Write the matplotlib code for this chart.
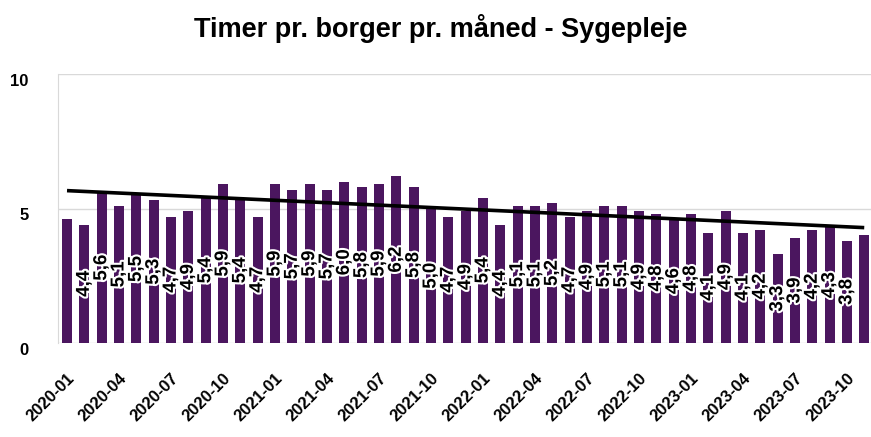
import matplotlib
matplotlib.use("Agg")
import matplotlib.pyplot as plt
import matplotlib.patheffects as pe
import numpy as np

plt.rcParams['font.family'] = ['Liberation Sans', 'DejaVu Sans']

months = [f"{y}-{m:02d}" for y in (2020, 2021, 2022, 2023) for m in range(1, 13)][:47]
values = [4.6, 4.4, 5.6, 5.1, 5.5, 5.3, 4.7, 4.9, 5.4, 5.9, 5.4, 4.7,
          5.9, 5.7, 5.9, 5.7, 6.0, 5.8, 5.9, 6.2, 5.8, 5.0, 4.7, 4.9,
          5.4, 4.4, 5.1, 5.1, 5.2, 4.7, 4.9, 5.1, 5.1, 4.9, 4.8, 4.6,
          4.8, 4.1, 4.9, 4.1, 4.2, 3.3, 3.9, 4.2, 4.3, 3.8, 4.0]
labelled = list(range(1, 46))
yticks = [0, 5, 10]

bar_color = '#4B165F'

fig = plt.figure(figsize=(8.71, 4.37), dpi=100)
ax = fig.add_axes([58/871, (437-343)/437, 1 - 58/871, (343-74)/437])

x = np.arange(len(values))
ax.bar(x, values, width=0.58, color=bar_color, zorder=2)

# trend line
coef = np.polyfit(x, values, 1)
ax.plot(x, np.polyval(coef, x), color='black', lw=2.6, zorder=4, solid_capstyle='butt')

for i in labelled:
    v = values[i]
    ax.text(i, v / 2, f"{v:.1f}".replace('.', ','), rotation=90, ha='center', va='center',
            fontsize=13.5, fontweight='bold', color='black', zorder=5,
            path_effects=[pe.withStroke(linewidth=3, foreground='white')])

ax.set_ylim(0, 10)
ax.set_xlim(-0.52, 46.39)
ax.set_yticks(yticks)
ax.set_yticklabels([str(t) for t in yticks], fontsize=12, fontweight='bold', va='top')
ax.tick_params(axis='y', length=0, pad=21)
ax.set_xticks(x[::3])
ax.set_xticklabels(months[::3], rotation=45, ha='right', rotation_mode='anchor',
                   fontsize=12, fontweight='bold')
ax.tick_params(axis='x', length=0, pad=20)

ax.grid(axis='y', color='#d9d9d9', lw=1, zorder=0)
for s in ['top', 'right', 'bottom']:
    ax.spines[s].set_visible(False)
ax.spines['left'].set_color('#d9d9d9')
ax.set_axisbelow(True)

fig.text(0.506, 0.935, "Timer pr. borger pr. måned - Sygepleje", ha='center', va='center',
         fontsize=19.5, fontweight='bold')

fig.savefig('out.png', dpi=100)
